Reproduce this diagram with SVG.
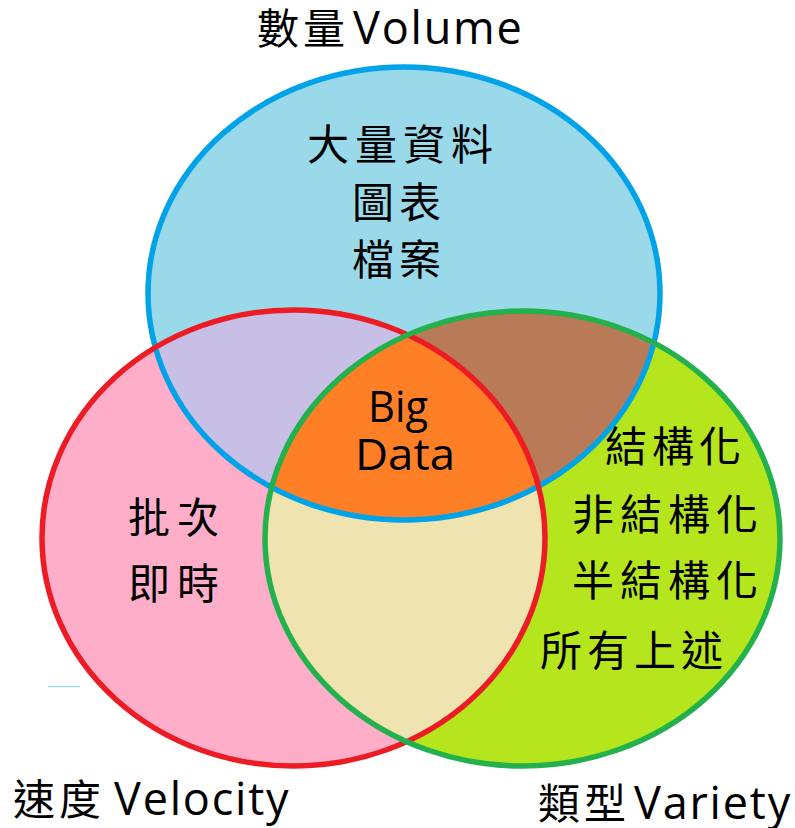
<svg xmlns="http://www.w3.org/2000/svg" width="795" height="828" viewBox="0 0 795 828">
<style>
.t{font-family:"Open Sans","Noto Sans CJK TC","Noto Sans CJK SC",sans-serif;fill:#000;}
.cjk{font-size:42px;}
.lab{font-size:42px;letter-spacing:4px;}
.lat{font-size:45px;letter-spacing:1.8px;}
.ring{fill:none;stroke-width:5.5;}
</style>
<defs>
<ellipse id="eB" cx="404" cy="293.5" rx="256" ry="226.5"/>
<ellipse id="eR" cx="293.5" cy="538" rx="251.5" ry="228"/>
<ellipse id="eG" cx="522.5" cy="538.5" rx="257.5" ry="227.5"/>
<clipPath id="cB"><use href="#eB"/></clipPath>
<clipPath id="cR"><use href="#eR"/></clipPath>
</defs>
<rect width="795" height="828" fill="#fff"/>
<g id="fills">
<use href="#eB" fill="#99D9EA"/>
<use href="#eR" fill="#FFAEC9"/>
<use href="#eG" fill="#B5E61D"/>
<g clip-path="url(#cB)"><use href="#eR" fill="#C8BFE7"/><use href="#eG" fill="#B97A57"/></g>
<g clip-path="url(#cR)"><use href="#eG" fill="#EFE4B0"/></g>
<g clip-path="url(#cB)"><g clip-path="url(#cR)"><use href="#eG" fill="#FF7F27"/></g></g>
</g>
<g id="volume">
<use href="#eB" class="ring" stroke="#00A2E8"/>
<text class="t lab" x="257" y="44">數量</text>
<text class="t lat" x="353" y="44">Volume</text>
<text class="t cjk" x="307" y="160" textLength="186" lengthAdjust="spacing">大量資料</text>
<text class="t cjk" x="352" y="218" textLength="89" lengthAdjust="spacing">圖表</text>
<text class="t cjk" x="352" y="275" textLength="89" lengthAdjust="spacing">檔案</text>
</g>
<g id="velocity">
<use href="#eR" class="ring" stroke="#ED1C24"/>
<text class="t lab" x="13" y="815">速度</text>
<text class="t lat" x="114" y="815">Velocity</text>
<text class="t cjk" x="128" y="533" textLength="91" lengthAdjust="spacing">批次</text>
<text class="t cjk" x="128" y="599" textLength="91" lengthAdjust="spacing">即時</text>
</g>
<g id="variety">
<use href="#eG" class="ring" stroke="#22B14C"/>
<text class="t lab" x="538" y="819">類型</text>
<text class="t lat" x="634" y="819" letter-spacing="1.3">Variety</text>
<text class="t cjk" x="605" y="462" textLength="136" lengthAdjust="spacing">結構化</text>
<text class="t cjk" x="572" y="530" textLength="186" lengthAdjust="spacing">非結構化</text>
<text class="t cjk" x="572" y="596" textLength="186" lengthAdjust="spacing">半結構化</text>
<text class="t cjk" x="540" y="666" textLength="183" lengthAdjust="spacing">所有上述</text>
</g>
<g id="bigdata">
<text class="t" font-size="43" x="368" y="422" textLength="60" lengthAdjust="spacingAndGlyphs">Big</text>
<text class="t" font-size="43" x="355" y="470" textLength="100" lengthAdjust="spacingAndGlyphs">Data</text>
</g>
<line x1="48" y1="686.5" x2="80" y2="686.5" stroke="#99D9EA" stroke-width="1.5"/>
</svg>
